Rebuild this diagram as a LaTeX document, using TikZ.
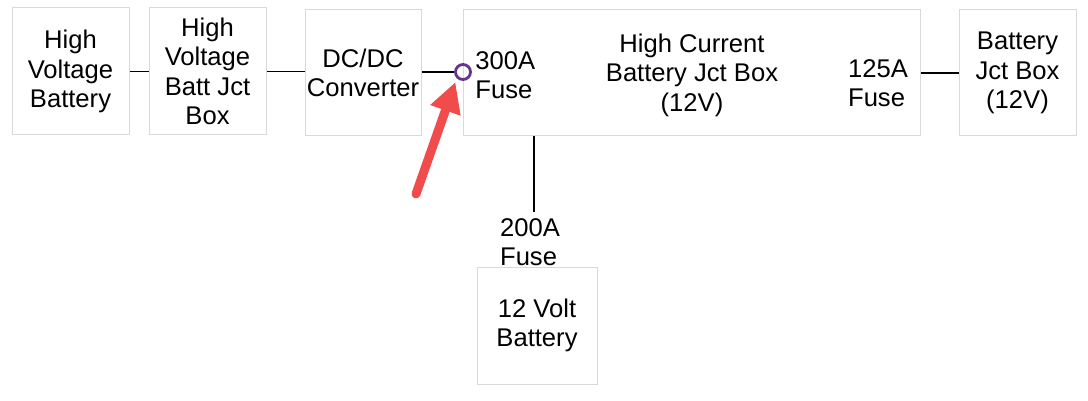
\documentclass[tikz,border=0pt]{standalone}
\usepackage{fontspec}
\setmainfont{Liberation Sans}
\usetikzlibrary{arrows.meta}
\definecolor{ringviolet}{RGB}{102,51,140}
\definecolor{calloutred}{RGB}{240,76,76}

\begin{document}
\begin{tikzpicture}[x=0.5pt,y=-0.5pt,
  font=\fontsize{12.8}{14.75}\selectfont,
  blk/.style={draw=black!15,line width=0.5pt,align=center,inner sep=0pt},
  wire/.style={line width=0.75pt},
  lbl/.style={align=left,inner sep=0pt}]
\useasboundingbox (0,0) rectangle (1088,401);
\node[blk,minimum width=58.5pt,minimum height=63.5pt] (hvb) at (70.5,71.5) {High\\Voltage\\Battery};
\node[blk,minimum width=58.5pt,minimum height=63.5pt] (hvj) at (207.5,71.5) {High\\Voltage\\Batt Jct\\Box};
\node[blk,minimum width=58pt,minimum height=63pt] (dc) at (363,73) {DC/DC\\Converter};
\node[blk,minimum width=228.5pt,minimum height=63pt] (hc) at (691.5,73) {};
\node[align=center,inner sep=0pt] (hct) at (692,75) {High Current\\Battery Jct Box\\(12V)};
\node[blk,minimum width=58.5pt,minimum height=63pt] (bj) at (1017.5,73) {Battery\\Jct Box\\(12V)};
\node[blk,minimum width=60pt,minimum height=58.5pt] (lv) at (537,325.5) {12 Volt\\Battery};
\node[lbl,anchor=west] (f300) at (475,75) {300A\\Fuse};
\node[lbl] (f125) at (878,83) {125A\\Fuse};
\node[lbl] (f200) at (530,242) {200A\\Fuse};
\node[circle,draw=ringviolet,line width=1.4pt,minimum size=7.5pt,inner sep=0pt] (ring) at (463,72) {};
\coordinate (fz) at (534,212);
\coordinate (tail) at (416,194);
% wiring
\draw[wire] (hvb.east) -- (hvj.west);
\draw[wire] (hvj.east) -- (dc.west |- hvj.east);
\draw[wire] (dc.east |- ring) -- (ring.west);
\draw[wire] (hc.east) -- (bj.west);
\draw[wire] (hc.south -| fz) -- (fz);
% callout
\draw[calloutred,line width=4.5pt,line cap=round,shorten >=2pt,
  -{Triangle[length=15pt,width=15pt]}] (tail) -- (ring.south west);
\end{tikzpicture}
\end{document}
